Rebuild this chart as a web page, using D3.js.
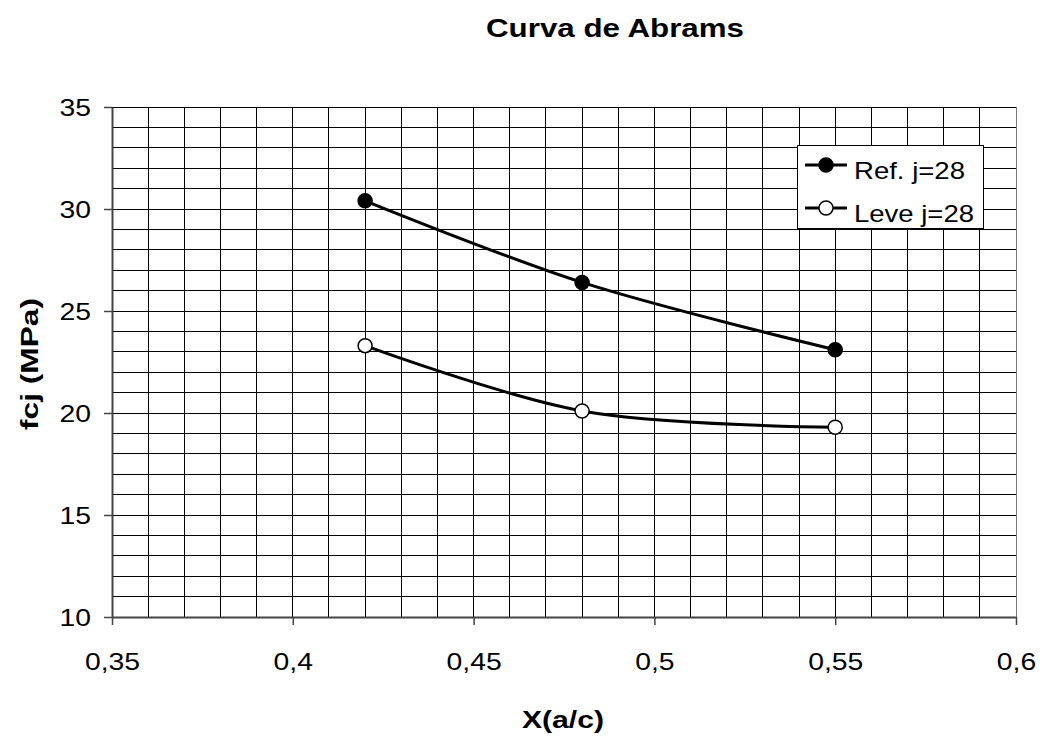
<!DOCTYPE html>
<html><head><meta charset="utf-8">
<script src="https://cdn.jsdelivr.net/npm/d3@7"></script>
<style>body{margin:0;background:#fff}svg{display:block}text{font-family:"Liberation Sans",Arial,sans-serif}</style>
</head><body>
<svg id="c" width="1040" height="740"></svg>
<script>
const xValues = [0.42, 0.48, 0.55];
const refValues = [30.4, 26.4, 23.1];
const leveValues = [23.3, 20.1, 19.3];
const seriesNames = ["Ref. j=28", "Leve j=28"];
const xTicks = [0.35, 0.4, 0.45, 0.5, 0.55, 0.6];
const yTicks = [10, 15, 20, 25, 30, 35];

const svg = d3.select("#c");
const m = {l:112, r:1016, t:107, b:617};
const x = d3.scaleLinear().domain([0.35, 0.6]).range([m.l, m.r]);
const y = d3.scaleLinear().domain([10, 35]).range([m.b, m.t]);

function stretch(sel, f) {
  sel.each(function() {
    const w = this.getComputedTextLength();
    d3.select(this).attr("textLength", w * f).attr("lengthAdjust", "spacingAndGlyphs");
  });
}

// grid
const g = svg.append("g").attr("shape-rendering","crispEdges");
g.selectAll(".vg").data(d3.range(36, 60).map(d => d/100)).join("line")
  .attr("x1", d => x(d)).attr("x2", d => x(d)).attr("y1", m.t).attr("y2", m.b)
  .attr("stroke", "#000").attr("stroke-width", 1);
g.selectAll(".hg").data(d3.range(11, 36)).join("line")
  .attr("y1", d => y(d)).attr("y2", d => y(d)).attr("x1", m.l).attr("x2", m.r)
  .attr("stroke", "#000").attr("stroke-width", 1);
g.append("line").attr("x1", m.r).attr("x2", m.r).attr("y1", m.t).attr("y2", m.b)
  .attr("stroke", "#777").attr("stroke-width", 1);

// axes
const fmt = d => String(d).replace(".", ",");
const xa = svg.append("g").attr("transform", `translate(0,${m.b})`)
  .call(d3.axisBottom(x).tickValues(xTicks).tickFormat(fmt).tickSize(8).tickSizeOuter(0));
const ya = svg.append("g").attr("transform", `translate(${m.l},0)`)
  .call(d3.axisLeft(y).tickValues(yTicks).tickFormat(d => d).tickSize(8).tickSizeOuter(0));
[xa, ya].forEach(a => {
  a.selectAll("path").attr("stroke", "#444").attr("stroke-width", 2);
  a.selectAll("line").attr("stroke", "#444").attr("stroke-width", 1.5);
  a.selectAll("text").attr("font-size", 24).attr("fill", "#000")
    .attr("font-family", '"Liberation Sans",Arial,sans-serif');
});
xa.selectAll("text").attr("y", 670 - m.b).attr("dy", 0);
ya.selectAll("text").attr("x", 91 - m.l).attr("dy", "0.35em");
stretch(xa.selectAll("text"), 1.18);
stretch(ya.selectAll("text"), 1.18);

// series
const line = d3.line().x(d => x(d[0])).y(d => y(d[1])).curve(d3.curveCatmullRom.alpha(0.5));
const series = [
  {name: seriesNames[0], vals: refValues, fill: "#000"},
  {name: seriesNames[1], vals: leveValues, fill: "#fff"}
];
series.forEach(s => {
  const pts = xValues.map((xv, i) => [xv, s.vals[i]]);
  svg.append("path").attr("d", line(pts)).attr("fill", "none")
    .attr("stroke", "#000").attr("stroke-width", 3);
  svg.append("g").selectAll("circle").data(pts).join("circle")
    .attr("cx", d => x(d[0])).attr("cy", d => y(d[1])).attr("r", 7)
    .attr("fill", s.fill).attr("stroke", "#000").attr("stroke-width", 1.5);
});

// legend
const lg = svg.append("g");
lg.append("rect").attr("x", 797.5).attr("y", 145.5).attr("width", 186).attr("height", 83)
  .attr("fill", "#fff").attr("stroke", "#000").attr("stroke-width", 1);
const legLen = [111, 120];
series.forEach((s, i) => {
  const cy = 165 + i * 43;
  lg.append("line").attr("x1", 805).attr("x2", 847).attr("y1", cy).attr("y2", cy)
    .attr("stroke", "#000").attr("stroke-width", 3);
  lg.append("circle").attr("cx", 826).attr("cy", cy).attr("r", 7)
    .attr("fill", s.fill).attr("stroke", "#000").attr("stroke-width", 1.5);
  lg.append("text").attr("x", 854).attr("y", cy + 14).attr("font-size", 24)
    .attr("textLength", legLen[i]).attr("lengthAdjust", "spacingAndGlyphs").text(s.name);
});

// titles
svg.append("text").attr("x", 615).attr("y", 37).attr("text-anchor", "middle")
  .attr("font-size", 26).attr("font-weight", "bold")
  .attr("textLength", 258).attr("lengthAdjust", "spacingAndGlyphs").text("Curva de Abrams");
svg.append("text").attr("x", 563).attr("y", 728).attr("text-anchor", "middle")
  .attr("font-size", 24).attr("font-weight", "bold")
  .attr("textLength", 82).attr("lengthAdjust", "spacingAndGlyphs").text("X(a/c)");
svg.append("text").attr("transform", "translate(38,364) rotate(-90)").attr("text-anchor", "middle")
  .attr("font-size", 24).attr("font-weight", "bold")
  .attr("textLength", 132).attr("lengthAdjust", "spacingAndGlyphs").text("fcj (MPa)");
</script>
</body></html>
